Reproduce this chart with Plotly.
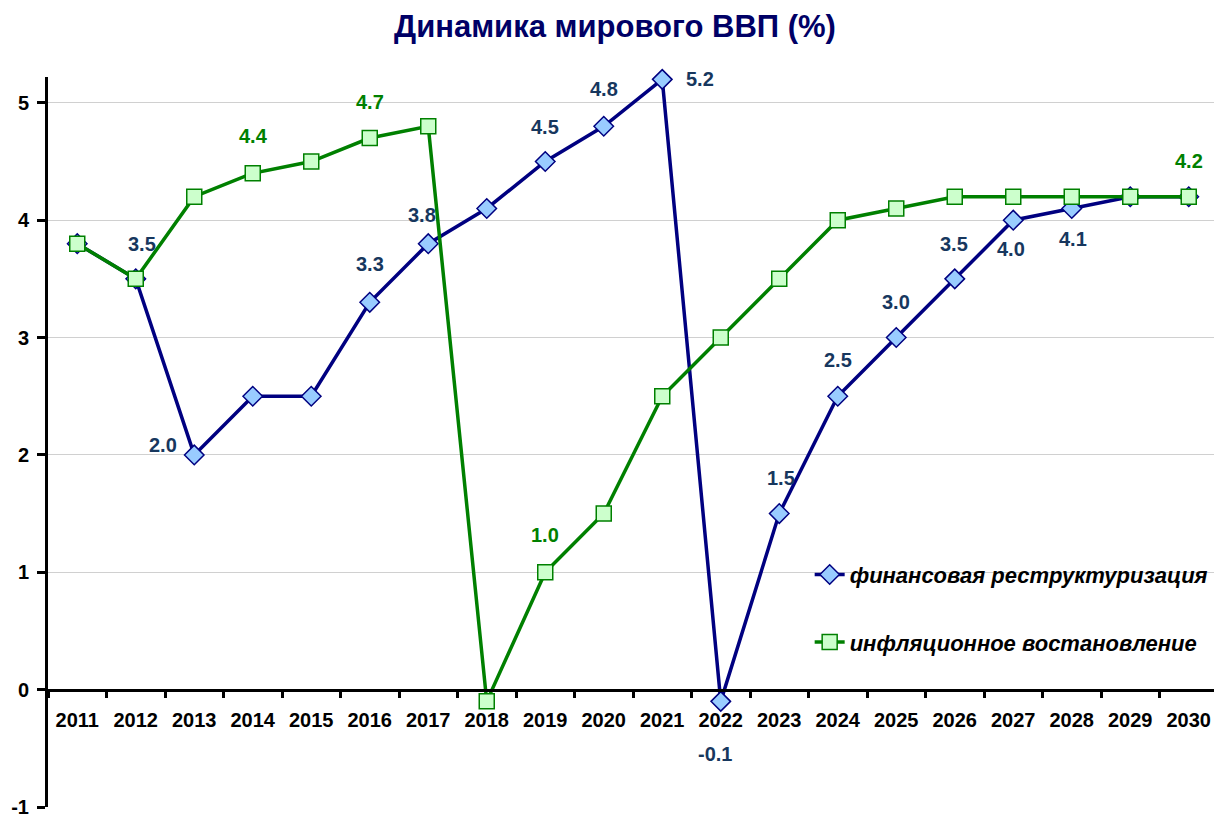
import plotly.graph_objects as go

years = [str(y) for y in range(2011, 2031)]
fin_restr = [3.8, 3.5, 2.0, 2.5, 2.5, 3.3, 3.8, 4.1, 4.5, 4.8, 5.2, -0.1, 1.5, 2.5, 3.0, 3.5, 4.0, 4.1, 4.2, 4.2]
infl_recov = [3.8, 3.5, 4.2, 4.4, 4.5, 4.7, 4.8, -0.1, 1.0, 1.5, 2.5, 3.0, 3.5, 4.0, 4.1, 4.2, 4.2, 4.2, 4.2, 4.2]
name_fin = "финансовая реструктуризация"
name_infl = "инфляционное востановление"
title = "Динамика мирового ВВП (%)"
y_ticks = [-1, 0, 1, 2, 3, 4, 5]

# which points carry labels, and pixel offsets (dx, dy) of each label
fin_label_offsets = {
    "2012": (6, 35), "2013": (-31, 10), "2016": (0, 38), "2017": (-6, 29),
    "2019": (0, 35), "2020": (0, 37), "2021": (38, 0), "2022": (-6, -53),
    "2023": (2, 36), "2024": (0, 36), "2025": (0, 36), "2026": (-1, 35),
    "2027": (-2, -29), "2028": (1, -31),
}
infl_label_offsets = {"2014": (1, 37), "2016": (0, 36), "2019": (0, 37), "2030": (0, 36)}

FONT = "Arial, Liberation Sans, sans-serif"
BLUE = "#000080"
BLUE_FILL = "#99CCFF"
GREEN = "#008000"
GREEN_FILL = "#CCFFCC"
BLUE_LABEL = "#17375E"

y_min, y_max = -1, 5.22

fig = go.Figure()
fig.add_trace(go.Scatter(
    x=years, y=fin_restr, name=name_fin, mode="lines+markers",
    line=dict(color=BLUE, width=3.5),
    marker=dict(symbol="diamond", size=15, color=BLUE_FILL, line=dict(color=BLUE, width=1.5)),
    legendgroup="a", cliponaxis=False,
))
fig.add_trace(go.Scatter(
    x=years, y=infl_recov, name=name_infl, mode="lines+markers",
    line=dict(color=GREEN, width=3.5),
    marker=dict(symbol="square", size=15, color=GREEN_FILL, line=dict(color=GREEN, width=1.5)),
    legendgroup="b", cliponaxis=False,
))

annotations = []
for series, offs, col in ((fin_restr, fin_label_offsets, BLUE_LABEL), (infl_recov, infl_label_offsets, GREEN)):
    for i, (yr, val) in enumerate(zip(years, series)):
        if yr in offs:
            dx, dy = offs[yr]
            annotations.append(dict(
                x=i, y=val, text=f"{val:.1f}", showarrow=False,
                xshift=dx, yshift=dy,
                font=dict(family=FONT, size=20, color=col, weight="bold"),
            ))

zero_pos = (0 - y_min) / (y_max - y_min)

fig.update_layout(
    width=1214, height=807,
    margin=dict(l=40, r=4, t=69, b=8),
    paper_bgcolor="white", plot_bgcolor="white",
    title=dict(text=title, x=0.5, xanchor="center", y=1 - 18 / 807, yanchor="middle",
               font=dict(family=FONT, size=31, color="#000066", weight="bold")),
    showlegend=True,
    legend=dict(x=0.651, y=0.347, xanchor="left", yanchor="top",
                bgcolor="rgba(0,0,0,0)", tracegroupgap=36,
                font=dict(family=FONT, size=22, color="black", weight="bold", style="italic")),
    annotations=annotations,
    xaxis=dict(
        type="category", categoryorder="array", categoryarray=years,
        range=[-0.5, len(years) - 0.5], autorange=False,
        anchor="free", position=zero_pos, automargin=False,
        showline=True, linecolor="black", linewidth=3,
        ticks="outside", tickson="boundaries", ticklen=6, tickwidth=3, tickcolor="black",
        showgrid=False, zeroline=False, tickangle=0, ticklabelstandoff=11,
        tickfont=dict(family=FONT, size=20, color="black", weight="bold"),
    ),
    yaxis=dict(
        range=[y_min, y_max], tickvals=y_ticks, ticktext=[str(v) for v in y_ticks],
        automargin=False,
        showline=True, linecolor="black", linewidth=3,
        ticks="outside", ticklen=8, tickwidth=3, tickcolor="black",
        showgrid=True, gridcolor="#D0D0D0", gridwidth=1, zeroline=False,
        ticklabelstandoff=4, ticklabeloverflow="allow",
        tickfont=dict(family=FONT, size=20, color="black", weight="bold"),
    ),
)

fig.write_html("out.html")
